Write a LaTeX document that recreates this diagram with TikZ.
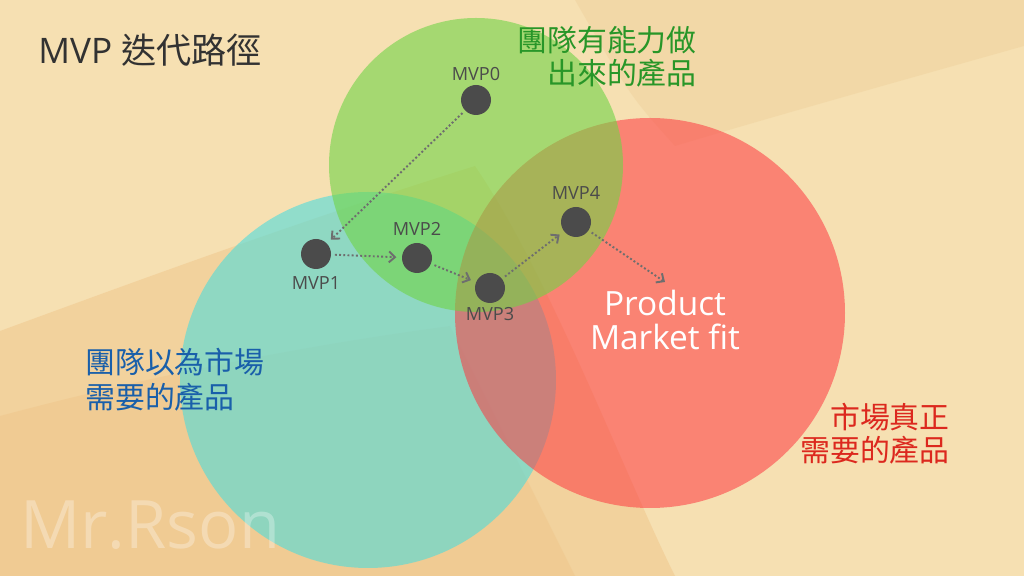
\documentclass[tikz,border=0pt]{standalone}
\usepackage{fontspec}
\setmainfont{Open Sans}
\newfontfamily\cjk{Noto Sans CJK TC}
\usepackage{tikz}
\usetikzlibrary{arrows.meta,positioning}

\definecolor{bgcream}{RGB}{246,224,178}
\definecolor{bgorange}{RGB}{236,178,110}
\definecolor{bgtan}{RGB}{232,196,136}
\definecolor{tealfill}{RGB}{78,220,220}
\definecolor{redfill}{RGB}{254,56,64}
\definecolor{greenfill}{RGB}{112,212,70}
\definecolor{dotgray}{RGB}{75,75,75}
\definecolor{flowgray}{RGB}{110,110,110}
\definecolor{titlegray}{RGB}{50,50,50}
\definecolor{teamgreen}{RGB}{40,150,40}
\definecolor{teamblue}{RGB}{25,95,170}
\definecolor{marketred}{RGB}{220,40,30}

\begin{document}
\begin{tikzpicture}[
      mvp/.style={circle, fill=dotgray, minimum size=0.6cm, inner sep=0pt},
      mvplabel/.style={text=dotgray, font=\fontsize{10.3}{12}\selectfont, inner sep=2pt},
      flow/.style={-{Straight Barb[length=1.2mm,width=2.2mm]}, line width=1.1pt,
        draw=flowgray, dash pattern=on 1.1pt off 1.3pt, shorten >=3pt, shorten <=2pt},
      caption/.style={font=\cjk\fontsize{17}{19}\selectfont, inner sep=0pt}
    ]
    \useasboundingbox (0,0) rectangle (20.48,11.52);

    % background
    \fill[bgcream] (0,0) rectangle (20.48,11.52);
    \fill[bgorange, opacity=0.3] (0,0) -- (0,4.9) .. controls (3,6) and (6,7.1) .. (9.5,8.2)
      .. controls (11,6) and (12.5,2) .. (13.5,0) -- cycle;
    \fill[bgorange, opacity=0.2] (0,0) -- (0,3.2) .. controls (3,4) and (6,4.6) .. (9,5)
      .. controls (10,3) and (11,1) .. (11.5,0) -- cycle;
    \fill[bgtan, opacity=0.25] (11.5,11.52) -- (20.48,11.52) -- (20.48,10.6)
      .. controls (18,9.9) and (15.5,9.2) .. (13.5,8.6) .. controls (12.6,9.6) .. cycle;

    % circles
    \fill[tealfill, opacity=0.6] (7.36,3.92) circle (3.76);
    \fill[redfill, opacity=0.55] (13.0,5.26) circle (3.9);
    \fill[greenfill, opacity=0.6] (9.52,8.22) circle (2.94);

    % texts
    \node[anchor=west, text=titlegray, font=\fontsize{20}{24}\selectfont, inner sep=0pt]
      (title) at (0.76,10.52) {MVP {\cjk 迭代路徑}};
    \node[caption, anchor=east, align=right, text=teamgreen] (teamcan) at (13.94,10.39)
      {團隊有能力做\\出來的產品};
    \node[caption, anchor=west, align=left, text=teamblue,
      font=\cjk\fontsize{17}{20}\selectfont] (teamthinks) at (1.70,3.93)
      {團隊以為市場\\需要的產品};
    \node[caption, anchor=east, align=right, text=marketred] (marketneeds) at (19.0,2.85)
      {市場真正\\需要的產品};
    \node[align=center, text=white, font=\fontsize{19}{19.4}\selectfont, inner sep=0pt]
      (pmf) at (13.30,5.12) {Product\\Market fit};
    \node[anchor=west, text=white, opacity=0.3, font=\fontsize{38}{40}\selectfont, inner sep=0pt]
      (mark) at (0.4,1.02) {Mr.Rson};

    % iterations
    \node[mvp, label={[mvplabel]above:MVP0}] (mvp0) at (9.52,9.52) {};
    \node[mvp, label={[mvplabel, yshift=-2pt]below:MVP1}] (mvp1) at (6.32,6.44) {};
    \node[mvp, label={[mvplabel, yshift=2pt]above:MVP2}] (mvp2) at (8.34,6.36) {};
    \node[mvp, label={[mvplabel]below:MVP3}] (mvp3) at (9.80,5.76) {};
    \node[mvp, label={[mvplabel, yshift=2pt]above:MVP4}] (mvp4) at (11.52,7.08) {};
    \coordinate (fit) at (13.30,5.88);

    \draw[flow] (mvp0) -- (mvp1);
    \draw[flow] (mvp1) -- (mvp2);
    \draw[flow] (mvp2) -- (mvp3);
    \draw[flow] (mvp3) -- (mvp4);
    \draw[flow, shorten >=0pt] (mvp4) -- (fit);
  \end{tikzpicture}
\end{document}
